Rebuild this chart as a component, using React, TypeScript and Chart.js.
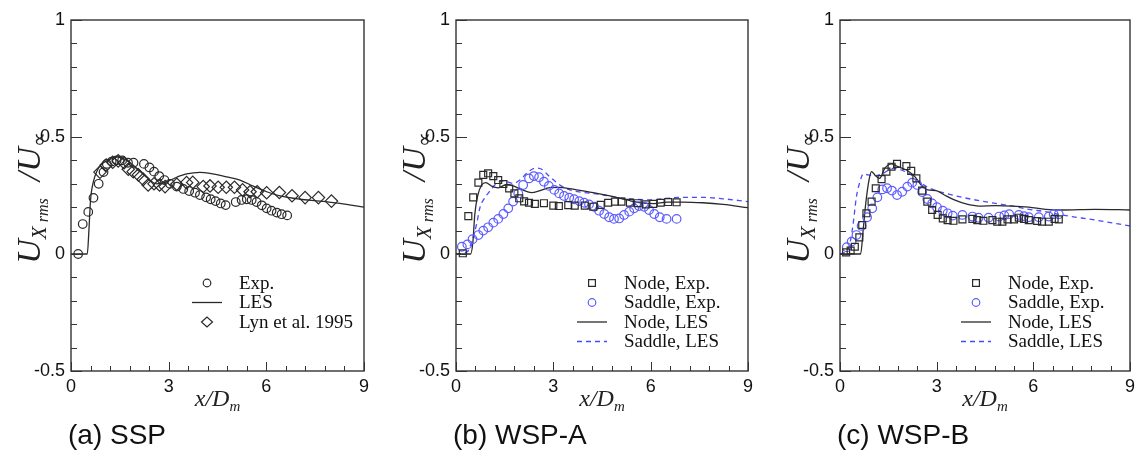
import React, { useEffect, useRef } from "react";
import { Chart, registerables } from "chart.js";

Chart.register(...registerables);

// ---------- axis ticks ----------
const X_MAJOR = [0, 3, 6, 9];
const X_TICK_LABELS = ["0", "3", "6", "9"];
const Y_MAJOR = [-0.5, 0, 0.5, 1];
const Y_TICK_LABELS = ["-0.5", "0", "0.5", "1"];

// ---------- panel (a) SSP ----------
const expA_x = [0.22, 0.36, 0.53, 0.69, 0.85, 1.0, 1.1, 1.25, 1.4, 1.57, 1.75, 1.92, 2.24, 2.41, 2.55, 2.71, 2.87, 3.04, 3.25, 3.45, 3.63, 3.81, 3.96, 4.15, 4.29, 4.44, 4.6, 4.75, 5.06, 5.24, 5.4, 5.55, 5.7, 5.86, 6.01, 6.16, 6.32, 6.47, 6.64];
const expA_y = [0.0, 0.128, 0.18, 0.24, 0.3, 0.35, 0.385, 0.395, 0.4, 0.4, 0.39, 0.39, 0.385, 0.37, 0.352, 0.333, 0.316, 0.3, 0.288, 0.278, 0.269, 0.262, 0.252, 0.242, 0.234, 0.226, 0.216, 0.209, 0.222, 0.231, 0.234, 0.231, 0.222, 0.208, 0.195, 0.185, 0.177, 0.17, 0.165];
const lesA_x = [0, 0.5, 0.55, 0.6, 0.69, 0.8, 0.95, 1.1, 1.3, 1.5, 1.71, 2.02, 2.32, 2.63, 2.94, 3.25, 3.55, 3.96, 4.27, 4.78, 5.19, 5.6, 6.01, 6.42, 7.03, 7.65, 8.26, 9.0];
const lesA_y = [0, 0, 0.1, 0.23, 0.31, 0.355, 0.385, 0.398, 0.41, 0.415, 0.4, 0.366, 0.328, 0.3, 0.309, 0.328, 0.342, 0.349, 0.345, 0.33, 0.316, 0.29, 0.266, 0.248, 0.234, 0.226, 0.216, 0.2];
const lynA_x = [0.89, 1.08, 1.28, 1.45, 1.63, 1.76, 1.91, 2.07, 2.22, 2.37, 2.55, 2.72, 2.89, 3.25, 3.55, 3.74, 4.06, 4.27, 4.52, 4.77, 5.02, 5.27, 5.5, 5.72, 6.01, 6.4, 6.79, 7.19, 7.6, 8.0];
const lynA_y = [0.35, 0.38, 0.392, 0.398, 0.39, 0.362, 0.352, 0.338, 0.319, 0.295, 0.3, 0.295, 0.288, 0.298, 0.305, 0.306, 0.288, 0.291, 0.285, 0.285, 0.285, 0.274, 0.266, 0.266, 0.262, 0.263, 0.249, 0.241, 0.241, 0.226];

// ---------- panel (b) WSP-A ----------
const nodeExpB_x = [0.21, 0.38, 0.53, 0.69, 0.84, 0.99, 1.15, 1.3, 1.46, 1.64, 1.8, 1.95, 2.1, 2.25, 2.43, 2.71, 3.0, 3.17, 3.46, 3.66, 3.97, 4.23, 4.46, 4.69, 4.9, 5.1, 5.36, 5.6, 5.85, 6.08, 6.31, 6.54, 6.8];
const nodeExpB_y = [0.003, 0.162, 0.242, 0.305, 0.338, 0.345, 0.333, 0.316, 0.299, 0.28, 0.259, 0.238, 0.225, 0.219, 0.214, 0.217, 0.207, 0.205, 0.209, 0.207, 0.207, 0.202, 0.21, 0.219, 0.224, 0.224, 0.219, 0.217, 0.212, 0.214, 0.219, 0.222, 0.221];
const saddleExpB_x = [0.18, 0.35, 0.51, 0.69, 0.84, 0.99, 1.15, 1.3, 1.46, 1.61, 1.76, 1.92, 2.07, 2.25, 2.4, 2.56, 2.71, 2.86, 3.03, 3.18, 3.33, 3.49, 3.64, 3.8, 3.95, 4.1, 4.26, 4.41, 4.57, 4.72, 4.87, 5.03, 5.18, 5.34, 5.49, 5.64, 5.8, 5.95, 6.11, 6.28, 6.49, 6.8];
const saddleExpB_y = [0.031, 0.041, 0.063, 0.081, 0.1, 0.114, 0.134, 0.15, 0.171, 0.195, 0.224, 0.259, 0.295, 0.323, 0.333, 0.328, 0.309, 0.291, 0.274, 0.259, 0.248, 0.241, 0.234, 0.226, 0.219, 0.212, 0.202, 0.185, 0.171, 0.157, 0.15, 0.152, 0.167, 0.181, 0.195, 0.205, 0.202, 0.188, 0.171, 0.157, 0.15, 0.15];
const nodeLesB_x = [0, 0.45, 0.52, 0.58, 0.67, 0.79, 0.92, 1.1, 1.3, 1.56, 1.76, 2.02, 2.33, 2.59, 2.89, 3.2, 3.72, 4.23, 4.74, 5.26, 5.77, 6.1, 6.49, 7.0, 7.61, 8.23, 9.0];
const nodeLesB_y = [0, 0, 0.05, 0.17, 0.25, 0.295, 0.305, 0.29, 0.283, 0.297, 0.291, 0.276, 0.262, 0.271, 0.284, 0.285, 0.274, 0.262, 0.248, 0.231, 0.217, 0.215, 0.222, 0.222, 0.219, 0.212, 0.198];
const saddleLesB_x = [0, 0.35, 0.5, 0.64, 0.74, 0.84, 1.05, 1.25, 1.46, 1.76, 1.97, 2.18, 2.45, 2.64, 2.89, 3.2, 3.51, 3.92, 4.43, 4.95, 5.56, 5.97, 6.49, 7.0, 7.61, 8.23, 9.0];
const saddleLesB_y = [0, 0.01, 0.06, 0.131, 0.2, 0.23, 0.27, 0.302, 0.313, 0.302, 0.316, 0.345, 0.367, 0.362, 0.33, 0.295, 0.274, 0.263, 0.255, 0.242, 0.234, 0.231, 0.238, 0.242, 0.242, 0.236, 0.224];

// ---------- panel (c) WSP-B ----------
const nodeExpC_x = [0.19, 0.33, 0.46, 0.6, 0.69, 0.82, 0.98, 1.11, 1.29, 1.44, 1.6, 1.77, 2.06, 2.21, 2.37, 2.55, 2.71, 2.86, 3.03, 3.19, 3.34, 3.52, 3.8, 4.11, 4.26, 4.45, 4.73, 4.88, 5.04, 5.2, 5.4, 5.55, 5.71, 5.86, 6.12, 6.27, 6.48, 6.66, 6.79];
const nodeExpC_y = [0.007, 0.015, 0.031, 0.071, 0.124, 0.174, 0.224, 0.281, 0.32, 0.352, 0.373, 0.385, 0.376, 0.355, 0.323, 0.271, 0.224, 0.188, 0.167, 0.152, 0.145, 0.142, 0.148, 0.15, 0.145, 0.142, 0.145, 0.138, 0.138, 0.148, 0.148, 0.155, 0.15, 0.145, 0.141, 0.138, 0.138, 0.15, 0.148];
const saddleExpC_x = [0.21, 0.36, 0.51, 0.67, 0.84, 1.0, 1.16, 1.31, 1.46, 1.61, 1.77, 1.93, 2.09, 2.24, 2.4, 2.55, 2.71, 2.86, 3.01, 3.19, 3.34, 3.5, 3.8, 4.11, 4.3, 4.61, 4.94, 5.1, 5.25, 5.55, 5.71, 5.86, 6.17, 6.48, 6.63, 6.79];
const saddleExpC_y = [0.029, 0.053, 0.081, 0.12, 0.157, 0.195, 0.242, 0.276, 0.281, 0.271, 0.252, 0.266, 0.288, 0.305, 0.295, 0.265, 0.235, 0.216, 0.2, 0.185, 0.174, 0.164, 0.167, 0.16, 0.155, 0.155, 0.16, 0.165, 0.17, 0.167, 0.162, 0.157, 0.157, 0.16, 0.17, 0.17];
const nodeLesC_x = [0, 0.64, 0.72, 0.8, 0.9, 0.98, 1.08, 1.23, 1.39, 1.6, 1.8, 2.06, 2.31, 2.52, 2.72, 2.98, 3.24, 3.55, 3.91, 4.32, 4.83, 5.35, 5.86, 6.38, 6.89, 7.92, 9.0];
const nodeLesC_y = [0, 0, 0.103, 0.217, 0.316, 0.352, 0.338, 0.323, 0.366, 0.385, 0.373, 0.359, 0.333, 0.295, 0.274, 0.271, 0.252, 0.231, 0.214, 0.205, 0.207, 0.205, 0.2, 0.191, 0.188, 0.191, 0.188];
const saddleLesC_x = [0, 0.25, 0.33, 0.41, 0.51, 0.62, 0.72, 0.87, 1.1, 1.34, 1.65, 1.9, 2.21, 2.52, 2.88, 3.29, 3.8, 4.32, 4.83, 5.35, 5.86, 6.38, 6.89, 7.92, 9.0];
const saddleLesC_y = [0, 0.02, 0.06, 0.131, 0.245, 0.309, 0.342, 0.338, 0.335, 0.345, 0.366, 0.359, 0.338, 0.302, 0.276, 0.259, 0.242, 0.228, 0.216, 0.205, 0.191, 0.181, 0.167, 0.145, 0.12];

// ---------- labels ----------
const CAPTIONS = ["(a) SSP", "(b) WSP-A", "(c) WSP-B"];
const LEGEND_A = ["Exp.", "LES", "Lyn et al. 1995"];
const LEGEND_BC = ["Node, Exp.", "Saddle, Exp.", "Node, LES", "Saddle, LES"];

// ---------- styles ----------
const BLACK = "#2a2a2a";
const BLUE = "#5c5cff";
const BLUE_LINE = "#4a4aff";
const SERIF = "'Liberation Serif', 'Times New Roman', serif";
const SANS = "'Liberation Sans', Arial, sans-serif";

type Kind = "circle" | "rect" | "diamond" | "line" | "dash";

interface Series {
  xs: number[];
  ys: number[];
  kind: Kind;
  color: string;
  label: string;
}

interface PanelCfg {
  left: number;
  axisWidth: number;
  padRight: number;
  caption: string;
  series: Series[];
  legendOrder: number[];
}

const pts = (xs: number[], ys: number[]) => xs.map((x, i) => ({ x, y: ys[i] }));

const panels: PanelCfg[] = [
  {
    left: 0,
    axisWidth: 71,
    padRight: 16,
    caption: CAPTIONS[0],
    series: [
      { xs: expA_x, ys: expA_y, kind: "circle", color: BLACK, label: LEGEND_A[0] },
      { xs: lesA_x, ys: lesA_y, kind: "line", color: BLACK, label: LEGEND_A[1] },
      { xs: lynA_x, ys: lynA_y, kind: "diamond", color: BLACK, label: LEGEND_A[2] },
    ],
    legendOrder: [0, 1, 2],
  },
  {
    left: 380,
    axisWidth: 76,
    padRight: 12,
    caption: CAPTIONS[1],
    series: [
      { xs: nodeExpB_x, ys: nodeExpB_y, kind: "rect", color: BLACK, label: LEGEND_BC[0] },
      { xs: saddleExpB_x, ys: saddleExpB_y, kind: "circle", color: BLUE, label: LEGEND_BC[1] },
      { xs: nodeLesB_x, ys: nodeLesB_y, kind: "line", color: BLACK, label: LEGEND_BC[2] },
      { xs: saddleLesB_x, ys: saddleLesB_y, kind: "dash", color: BLUE_LINE, label: LEGEND_BC[3] },
    ],
    legendOrder: [0, 1, 2, 3],
  },
  {
    left: 760,
    axisWidth: 80,
    padRight: 8,
    caption: CAPTIONS[2],
    series: [
      { xs: nodeExpC_x, ys: nodeExpC_y, kind: "rect", color: BLACK, label: LEGEND_BC[0] },
      { xs: saddleExpC_x, ys: saddleExpC_y, kind: "circle", color: BLUE, label: LEGEND_BC[1] },
      { xs: nodeLesC_x, ys: nodeLesC_y, kind: "line", color: BLACK, label: LEGEND_BC[2] },
      { xs: saddleLesC_x, ys: saddleLesC_y, kind: "dash", color: BLUE_LINE, label: LEGEND_BC[3] },
    ],
    legendOrder: [0, 1, 2, 3],
  },
];

function drawMarker(ctx: CanvasRenderingContext2D, kind: Kind, color: string, x: number, y: number) {
  ctx.save();
  ctx.strokeStyle = color;
  ctx.lineWidth = 1.2;
  ctx.beginPath();
  if (kind === "circle") {
    ctx.arc(x, y, 3.8, 0, Math.PI * 2);
    ctx.stroke();
  } else if (kind === "rect") {
    ctx.rect(x - 3.4, y - 3.4, 6.8, 6.8);
    ctx.stroke();
  } else if (kind === "diamond") {
    ctx.moveTo(x - 5.5, y);
    ctx.lineTo(x, y - 5);
    ctx.lineTo(x + 5.5, y);
    ctx.lineTo(x, y + 5);
    ctx.closePath();
    ctx.stroke();
  } else {
    if (kind === "dash") ctx.setLineDash([5, 4]);
    ctx.lineWidth = 1.3;
    ctx.moveTo(x - 15, y);
    ctx.lineTo(x + 15, y);
    ctx.stroke();
  }
  ctx.restore();
}

function makeDecor(cfg: PanelCfg) {
  return {
    id: "decor",
    afterDraw(chart: any) {
      const ctx: CanvasRenderingContext2D = chart.ctx;
      const { left, right, top, bottom } = chart.chartArea;
      const xs = chart.scales.x;
      const ys = chart.scales.y;
      ctx.save();
      // frame
      ctx.strokeStyle = "#333";
      ctx.lineWidth = 1.4;
      ctx.strokeRect(left, top, right - left, bottom - top);
      // y ticks (inward)
      ctx.lineWidth = 1;
      ctx.beginPath();
      for (let k = -5; k <= 10; k++) {
        const v = k / 10;
        const py = Math.round(ys.getPixelForValue(v)) + 0.5;
        const len = k % 5 === 0 ? 11 : 6;
        ctx.moveTo(left, py);
        ctx.lineTo(left + len, py);
      }
      // x ticks (inward)
      for (let k = 0; k <= 15; k++) {
        const v = k * 0.6;
        const px = Math.round(xs.getPixelForValue(v)) + 0.5;
        const len = k % 5 === 0 ? 9 : 5;
        ctx.moveTo(px, bottom);
        ctx.lineTo(px, bottom - len);
      }
      ctx.stroke();

      // y title: U_{X rms} /U_∝
      ctx.fillStyle = "#222";
      ctx.translate(left - 31, 198);
      ctx.rotate(-Math.PI / 2);
      const parts = [
        { t: "U", f: `italic 34px ${SERIF}`, dy: 0 },
        { t: "X", f: `italic 21px ${SERIF}`, dy: 6 },
        { t: " rms", f: `italic 16px ${SERIF}`, dy: 8 },
        { t: "  /U", f: `italic 34px ${SERIF}`, dy: 0 },
        { t: "∝", f: `21px ${SERIF}`, dy: 6 },
      ];
      let total = 0;
      for (const p of parts) {
        ctx.font = p.f;
        total += ctx.measureText(p.t).width;
      }
      let cx = -total / 2;
      ctx.textBaseline = "alphabetic";
      ctx.textAlign = "left";
      for (const p of parts) {
        ctx.font = p.f;
        ctx.fillText(p.t, cx, p.dy);
        cx += ctx.measureText(p.t).width;
      }
      ctx.restore();

      ctx.save();
      ctx.fillStyle = "#222";
      // x title: x/D_m
      const midX = (left + right) / 2;
      const xparts = [
        { t: "x/D", f: `italic 24px ${SERIF}`, dy: 0 },
        { t: "m", f: `italic 15px ${SERIF}`, dy: 5 },
      ];
      let tw = 0;
      for (const p of xparts) {
        ctx.font = p.f;
        tw += ctx.measureText(p.t).width;
      }
      let sx = midX - tw / 2;
      ctx.textAlign = "left";
      ctx.textBaseline = "alphabetic";
      for (const p of xparts) {
        ctx.font = p.f;
        ctx.fillText(p.t, sx, 406 + p.dy);
        sx += ctx.measureText(p.t).width;
      }

      // caption
      ctx.fillStyle = "#111";
      ctx.font = `28px ${SANS}`;
      ctx.fillText(cfg.caption, left - 3, 444);

      // legend
      const mx = left + 136;
      const tx = left + 168;
      const rowY = [283, 302.5, 322, 341.5];
      ctx.font = `19px ${SERIF}`;
      ctx.textBaseline = "middle";
      cfg.legendOrder.forEach((si, row) => {
        const s = cfg.series[si];
        drawMarker(ctx, s.kind, s.color, mx, rowY[row]);
        ctx.fillStyle = "#111";
        ctx.fillText(s.label, tx, rowY[row] + 1);
      });
      ctx.restore();
    },
  };
}

function buildDatasets(cfg: PanelCfg) {
  return cfg.series.map((s, i) => {
    const base: any = { label: s.label, data: pts(s.xs, s.ys), borderColor: s.color };
    if (s.kind === "line" || s.kind === "dash") {
      return {
        ...base,
        showLine: true,
        pointRadius: 0,
        borderWidth: 1.3,
        borderDash: s.kind === "dash" ? [5, 4] : [],
        cubicInterpolationMode: "monotone",
        backgroundColor: "rgba(0,0,0,0)",
        order: 10 + i,
      };
    }
    return {
      ...base,
      showLine: false,
      pointStyle: s.kind === "diamond" ? "rectRot" : s.kind,
      pointRadius: s.kind === "circle" ? 4.3 : s.kind === "rect" ? 4.9 : 6.2,
      pointBorderWidth: 1.2,
      pointBorderColor: s.color,
      pointBackgroundColor: "rgba(0,0,0,0)",
      backgroundColor: "rgba(0,0,0,0)",
      order: i,
    };
  });
}

function Panel({ cfg }: { cfg: PanelCfg }) {
  const ref = useRef<HTMLCanvasElement>(null);
  useEffect(() => {
    const canvas = ref.current;
    if (!canvas) return;
    const chart = new Chart(canvas, {
      type: "scatter",
      data: { datasets: buildDatasets(cfg) as any },
      options: {
        responsive: false,
        animation: false,
        devicePixelRatio: 1,
        layout: { padding: { left: 0, right: cfg.padRight, top: 20, bottom: 0 } },
        plugins: { legend: { display: false }, tooltip: { enabled: false } },
        scales: {
          x: {
            type: "linear",
            min: 0,
            max: 9,
            afterBuildTicks: (s: any) => {
              s.ticks = X_MAJOR.map((v) => ({ value: v }));
            },
            afterFit: (s: any) => {
              s.height = 85;
            },
            grid: { display: false, drawTicks: false },
            border: { display: false },
            ticks: {
              padding: 5,
              autoSkip: false,
              maxRotation: 0,
              color: "#111",
              font: { size: 18, family: SANS },
              callback: (v: any) => {
                const i = X_MAJOR.indexOf(Number(v));
                return i >= 0 ? X_TICK_LABELS[i] : "";
              },
            },
          },
          y: {
            type: "linear",
            min: -0.5,
            max: 1,
            afterBuildTicks: (s: any) => {
              s.ticks = Y_MAJOR.map((v) => ({ value: v }));
            },
            afterFit: (s: any) => {
              s.width = cfg.axisWidth;
            },
            grid: { display: false, drawTicks: false },
            border: { display: false },
            ticks: {
              padding: 6,
              autoSkip: false,
              color: "#111",
              font: { size: 18, family: SANS },
              callback: (v: any) => {
                const i = Y_MAJOR.indexOf(Number(v));
                return i >= 0 ? Y_TICK_LABELS[i] : "";
              },
            },
          },
        },
      } as any,
      plugins: [makeDecor(cfg)],
    });
    return () => chart.destroy();
  }, [cfg]);
  return (
    <canvas
      ref={ref}
      width={380}
      height={456}
      style={{ position: "absolute", left: cfg.left, top: 0, width: 380, height: 456, display: "block" }}
    />
  );
}

export default function App() {
  return (
    <div style={{ position: "absolute", left: 0, top: 0, width: 1140, height: 456, background: "#fff", overflow: "hidden" }}>
      {panels.map((p, i) => (
        <Panel key={i} cfg={p} />
      ))}
    </div>
  );
}
